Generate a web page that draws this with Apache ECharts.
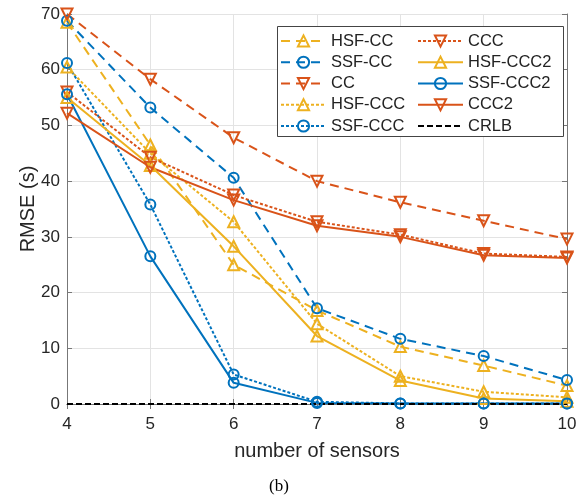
<!DOCTYPE html>
<html><head><meta charset="utf-8">
<script src="https://cdn.jsdelivr.net/npm/echarts@6/dist/echarts.min.js"></script>
<style>html,body{margin:0;padding:0;background:#fff}#c{width:585px;height:500px}</style>
</head><body><div id="c"></div>
<script>
const sensors = [4, 5, 6, 7, 8, 9, 10];
const hsfCC   = [68.5, 46.5, 25.0, 16.8, 10.3, 6.9, 3.3];
const ssfCC   = [68.8, 53.2, 40.6, 17.2, 11.7, 8.6, 4.3];
const cc      = [70.0, 58.3, 47.8, 40.0, 36.2, 32.9, 29.6];
const hsfCCC  = [60.5, 45.0, 32.7, 14.4, 5.0, 2.2, 1.2];
const ssfCCC  = [61.2, 35.8, 5.3, 0.4, 0.1, 0.1, 0.1];
const ccc     = [56.0, 44.3, 37.5, 32.7, 30.4, 27.0, 26.4];
const hsfCCC2 = [55.0, 42.8, 28.3, 12.2, 4.2, 1.0, 0.5];
const ssfCCC2 = [55.6, 26.5, 3.8, 0.2, 0.1, 0.1, 0.1];
const ccc2    = [52.2, 42.5, 36.6, 32.0, 30.0, 26.7, 26.2];
const crlb    = [0, 0, 0, 0, 0, 0, 0];
const yTicks = [0, 10, 20, 30, 40, 50, 60, 70];
const xTicks = [4, 5, 6, 7, 8, 9, 10];

const BLUE = '#0072BD', RED = '#D95319', YEL = '#EDB120';
const DASH = [9, 6], DOT = [3, 2];
const font = 'Liberation Sans, Arial, sans-serif';

function mk(name, data, color, dash, sym) {
  let symbol = 'none', rot = 0, size = 9;
  if (sym === 'up') { symbol = 'triangle'; size = 11; }
  if (sym === 'down') { symbol = 'triangle'; rot = 180; size = 11; }
  if (sym === 'circle') { symbol = 'circle'; size = 10; }
  return {
    name, type: 'line', data: sensors.map((x, i) => [x, data[i]]),
    symbol, symbolSize: size, symbolRotate: rot, showSymbol: symbol !== 'none',
    lineStyle: { color, width: 2, type: dash },
    itemStyle: { color: 'transparent', borderColor: color, borderWidth: 2 },
    emphasis: { disabled: true }, animation: false, clip: true
  };
}

const series = [
  mk('HSF-CC', hsfCC, YEL, DASH, 'up'),
  mk('SSF-CC', ssfCC, BLUE, DASH, 'circle'),
  mk('CC', cc, RED, DASH, 'down'),
  mk('HSF-CCC', hsfCCC, YEL, DOT, 'up'),
  mk('SSF-CCC', ssfCCC, BLUE, DOT, 'circle'),
  mk('CCC', ccc, RED, DOT, 'down'),
  mk('HSF-CCC2', hsfCCC2, YEL, 'solid', 'up'),
  mk('SSF-CCC2', ssfCCC2, BLUE, 'solid', 'circle'),
  mk('CCC2', ccc2, RED, 'solid', 'down'),
  mk('CRLB', crlb, '#000', [6, 3], null)
];

const axisCommon = {
  axisLine: { show: true, lineStyle: { color: '#777', width: 1 } },
  axisTick: { show: true, inside: true, length: 5, lineStyle: { color: '#777' } },
};

const chart = echarts.init(document.getElementById('c'), null, { renderer: 'canvas' });
const legendText = { fontFamily: font, fontSize: 16.5, color: '#222' };
chart.setOption({
  animation: false,
  backgroundColor: '#fff',
  grid: { left: 67, right: 18, top: 14, bottom: 96, containLabel: false },
  xAxis: [{
    type: 'value', min: xTicks[0], max: xTicks[xTicks.length - 1], interval: 1,
    name: 'number of sensors', nameLocation: 'middle', nameGap: 37, nameMoveOverlap: false,
    nameTextStyle: { fontFamily: font, fontSize: 20, color: '#262626' },
    axisLabel: { fontFamily: font, fontSize: 17, color: '#262626', margin: 12 },
    splitLine: { show: true, lineStyle: { color: '#e3e3e3', width: 1 } },
    ...axisCommon
  }, {
    type: 'value', position: 'top', min: xTicks[0], max: xTicks[xTicks.length - 1], interval: 1,
    axisLabel: { show: false }, splitLine: { show: false }, ...axisCommon
  }],
  yAxis: [{
    type: 'value', min: yTicks[0], max: yTicks[yTicks.length - 1], interval: 10,
    name: 'RMSE (s)', nameLocation: 'middle', nameGap: 29, nameMoveOverlap: false,
    nameTextStyle: { fontFamily: font, fontSize: 20, color: '#262626' },
    axisLabel: { fontFamily: font, fontSize: 17, color: '#262626', margin: 7 },
    splitLine: { show: true, lineStyle: { color: '#e3e3e3', width: 1 } },
    ...axisCommon
  }, {
    type: 'value', position: 'right', min: yTicks[0], max: yTicks[yTicks.length - 1], interval: 10,
    axisLabel: { show: false }, splitLine: { show: false }, ...axisCommon
  }],
  legend: [{
    data: ['HSF-CC', 'SSF-CC', 'CC', 'HSF-CCC', 'SSF-CCC'],
    orient: 'vertical', left: 280, top: 32.5, padding: 0,
    itemWidth: 45, itemHeight: 14, itemGap: 4.25, textStyle: legendText,
    selectedMode: false, z: 5
  }, {
    data: ['CCC', 'HSF-CCC2', 'SSF-CCC2', 'CCC2',
      { name: 'CRLB', itemStyle: { color: 'transparent', borderColor: 'transparent', borderWidth: 0 } }],
    orient: 'vertical', left: 417, top: 32.5, padding: 0,
    itemWidth: 45, itemHeight: 14, itemGap: 4.25, textStyle: legendText,
    selectedMode: false, z: 5
  }],
  graphic: [{
    type: 'rect', shape: { x: 277.5, y: 26.5, width: 286, height: 110 },
    style: { fill: '#fff', stroke: '#444', lineWidth: 1 }, z: 3
  }, {
    type: 'text', left: 269, top: 478,
    style: { text: '(b)', font: '17px "Liberation Serif", "Times New Roman", serif', fill: '#000' }
  }],
  series
});
</script></body></html>
